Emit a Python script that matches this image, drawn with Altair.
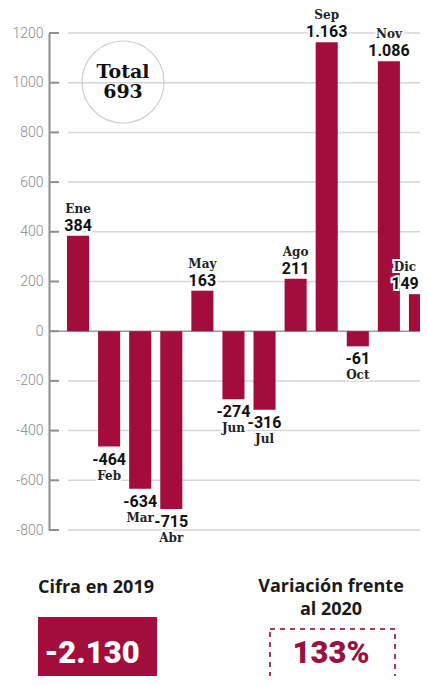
import altair as alt
import pandas as pd

# ---- data ----
months = ["Ene", "Feb", "Mar", "Abr", "May", "Jun", "Jul", "Ago", "Sep", "Oct", "Nov", "Dic"]
values = [384, -464, -634, -715, 163, -274, -316, 211, 1163, -61, 1086, 149]
tick_values = [-800, -600, -400, -200, 0, 200, 400, 600, 800, 1000, 1200]
total_text = ["Total", "693"]
cifra_title = "Cifra en 2019"
cifra_value = "-2.130"
variacion_title = ["Variación frente", "al 2020"]
variacion_value = "133%"


def es_fmt(v):
    return f"{v:,}".replace(",", ".")


df = pd.DataFrame({"mes": months, "v": values, "lab": [es_fmt(v) for v in values]})
grid_df = pd.DataFrame({"t": [t for t in tick_values if t != 0]})
tick_df = pd.DataFrame({"t": tick_values})
zero_df = pd.DataFrame({"t": [0]})
one = pd.DataFrame({"a": [0]})

BAR = "#a30d3b"
AXIS_GRAY = "#8f8f8f"

yscale = alt.Scale(domain=[-800, 1200], nice=False, zero=False)
xscale = alt.Scale(domain=months, range=[18, 382], paddingInner=0.29, paddingOuter=0)

X = alt.X("mes:N", scale=xscale, axis=None, sort=months)

ticks = alt.Chart(tick_df).mark_rule(color=AXIS_GRAY, strokeWidth=2).encode(
    y=alt.Y("t:Q", scale=yscale, title=None,
            axis=alt.Axis(values=tick_values, labelExpr="'' + datum.value", ticks=False,
                          grid=False, domain=True, domainColor=AXIS_GRAY, domainWidth=2,
                          labelColor="#8a8a8a", labelFont="Roboto", labelFontWeight=300,
                          labelFontSize=14, labelPadding=6)),
    x=alt.value(0), x2=alt.value(10),
)

grid = alt.Chart(grid_df).mark_rule(color="#d6d6d6", strokeWidth=1.5).encode(
    y=alt.Y("t:Q", scale=yscale, title=None),
    x=alt.value(19), x2=alt.value(420),
)

zero = alt.Chart(zero_df).mark_rule(color="#9a9a9a", strokeWidth=1.5).encode(
    y=alt.Y("t:Q", scale=yscale, title=None),
    x=alt.value(0), x2=alt.value(420),
)

bars = alt.Chart(df).mark_bar(color=BAR).encode(
    x=X,
    y=alt.Y("v:Q", scale=yscale, title=None),
    y2=alt.datum(0),
)

val_style = dict(font="Roboto", fontWeight="bold", fontSize=16, baseline="alphabetic", align="center")
mon_style = dict(font="DejaVu Serif", fontWeight="bold", fontSize=12, baseline="alphabetic", align="center")

layers = [grid, zero, ticks, bars]
groups = [
    ("datum.v >= 0 && datum.mes != 'Dic'", -5, -23, 0),
    ("datum.v < 0", 18, 33, 0),
    ("datum.mes == 'Dic'", -5, -23, -15),
]
for flt, dv, dm, dx in groups:
    sub = alt.Chart(df).transform_filter(flt)
    enc = dict(x=alt.X("mes:N", scale=xscale, axis=None, sort=months, bandPosition=0.5),
               y=alt.Y("v:Q", scale=yscale, title=None))
    layers.append(sub.mark_text(dy=dv, dx=dx, fill="white", stroke="white", strokeWidth=4, **val_style)
                  .encode(text="lab:N", **enc))
    layers.append(sub.mark_text(dy=dv, dx=dx, color="#111111", **val_style).encode(text="lab:N", **enc))
    layers.append(sub.mark_text(dy=dm, dx=dx, fill="white", stroke="white", strokeWidth=4, **mon_style)
                  .encode(text="mes:N", **enc))
    layers.append(sub.mark_text(dy=dm, dx=dx, color="#222222", **mon_style).encode(text="mes:N", **enc))

# Total circle
circle = alt.Chart(one).mark_point(shape="circle", filled=False, color="#bdbdbd", strokeWidth=1.2,
                                   size=6724).encode(x=alt.value(74), y=alt.value(49))
tot_style = dict(font="DejaVu Serif", fontWeight=900, fontSize=19, color="#111111",
                 align="center", baseline="alphabetic")
total1 = alt.Chart(one).mark_text(**tot_style).encode(
    x=alt.value(74), y=alt.value(45), text=alt.value(total_text[0]))
total2 = alt.Chart(one).mark_text(**tot_style).encode(
    x=alt.value(74), y=alt.value(65), text=alt.value(total_text[1]))

# bottom panels
head_style = dict(font="Open Sans", fontWeight=700, fontSize=18, color="#1a1a1a", align="center",
                  baseline="alphabetic")
cifra_t = alt.Chart(one).mark_text(**head_style).encode(
    x=alt.value(47), y=alt.value(560), text=alt.value(cifra_title))
var_t1 = alt.Chart(one).mark_text(**head_style).encode(
    x=alt.value(282), y=alt.value(559), text=alt.value(variacion_title[0]))
var_t2 = alt.Chart(one).mark_text(**head_style).encode(
    x=alt.value(282), y=alt.value(582), text=alt.value(variacion_title[1]))

red_box = alt.Chart(one).mark_rect(color=BAR).encode(
    x=alt.value(-11), x2=alt.value(108), y=alt.value(584), y2=alt.value(720))
cifra_v = alt.Chart(one).mark_text(font="Roboto", fontWeight=900, fontSize=31, color="white",
                                   align="center", baseline="alphabetic").encode(
    x=alt.value(43), y=alt.value(630), text=alt.value(cifra_value))

dash_box = alt.Chart(one).mark_rect(fill="white", stroke="#a8365a", strokeWidth=2,
                                    strokeDash=[5, 5]).encode(
    x=alt.value(221), x2=alt.value(346), y=alt.value(596), y2=alt.value(720))
var_v = alt.Chart(one).mark_text(font="Roboto", fontWeight=900, fontSize=31, color="#9b1040",
                                 align="center", baseline="alphabetic").encode(
    x=alt.value(282), y=alt.value(630), text=alt.value(variacion_value))

layers += [circle, total1, total2, cifra_t, var_t1, var_t2, red_box, cifra_v, dash_box, var_v]

chart = alt.layer(*layers).properties(
    width=371, height=497,
    autosize=alt.AutoSizeParams(type="none"),
    padding={"left": 41, "top": 25, "right": 0, "bottom": 146},
    background="white",
).configure_view(stroke=None)

chart.save("out.html", embed_options={"renderer": "svg", "actions": False})
